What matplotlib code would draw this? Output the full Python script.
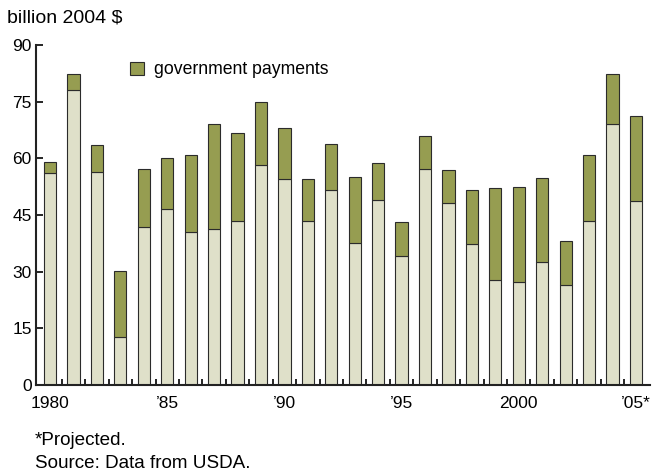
import matplotlib
matplotlib.use("Agg")
import matplotlib.pyplot as plt
import numpy as np
from matplotlib.patches import Patch

plt.rcParams["font.family"] = ["Liberation Sans", "DejaVu Sans"]

years = np.arange(1980, 2006)
# lower (light) segment and total bar height, billion 2004 $
base = [56.2, 78.2, 56.4, 12.6, 41.7, 46.7, 40.5, 41.2, 43.5, 58.2,
        54.6, 43.3, 51.5, 37.6, 48.9, 34.2, 57.1, 48.1, 37.2, 27.9,
        27.3, 32.6, 26.5, 43.3, 69.0, 48.7]
total = [59.1, 82.4, 63.4, 30.2, 57.1, 60.2, 61.0, 69.0, 66.6, 74.9,
         68.0, 54.6, 63.8, 55.1, 58.7, 43.1, 66.0, 57.0, 51.5, 52.2,
         52.4, 54.8, 38.2, 61.0, 82.3, 71.3]
gov = [t - b for t, b in zip(total, base)]

tick_years = [1980, 1985, 1990, 1995, 2000, 2005]
tick_labels = ["1980", "\u201985", "\u201990", "\u201995", "2000", "\u201905*"]

LIGHT = "#dfe0c9"
DARK = "#969d51"
EDGE = "#2b2b2b"

fig = plt.figure(figsize=(6.52, 4.73), dpi=100)
ax = fig.add_axes([36 / 652, 88 / 473, 614 / 652, 340 / 473])

ax.bar(years, base, width=0.52, color=LIGHT, edgecolor=EDGE, lw=0.8)
ax.bar(years, gov, bottom=base, width=0.52, color=DARK, edgecolor=EDGE, lw=0.8)

ax.set_xlim(1979.4, 2005.6)
ax.set_ylim(0, 90)
ax.set_yticks(np.arange(0, 91, 15))
ax.tick_params(axis="y", direction="in", length=5, width=1.2, labelsize=12.5, pad=3)
ax.set_xticks(tick_years)
ax.set_xticklabels(tick_labels)
ax.tick_params(axis="x", which="major", length=0, labelsize=12.5, pad=8)
ax.set_xticks(np.arange(1980.5, 2005, 1.0), minor=True)
ax.tick_params(axis="x", which="minor", direction="in", length=4, width=1.2)

for s in ["top", "right"]:
    ax.spines[s].set_visible(False)
for s in ["left", "bottom"]:
    ax.spines[s].set_linewidth(1.5)
    ax.spines[s].set_color("#222222")

fig.legend(handles=[Patch(facecolor=DARK, edgecolor=EDGE, lw=0.8)],
           labels=["government payments"], loc="center left",
           bbox_to_anchor=(114 / 652, 1 - 70 / 473), frameon=False,
           handlelength=0.8, handleheight=0.8, handletextpad=0.57, fontsize=12.7)

fig.text(7 / 652, 1 - 18 / 473, "billion 2004 $", fontsize=14, va="center")
fig.text(35 / 652, 1 - 440 / 473, "*Projected.", fontsize=13.6, va="center")
fig.text(35 / 652, 1 - 463 / 473, "Source: Data from USDA.", fontsize=13.6, va="center")

fig.savefig("out.png", dpi=100)
